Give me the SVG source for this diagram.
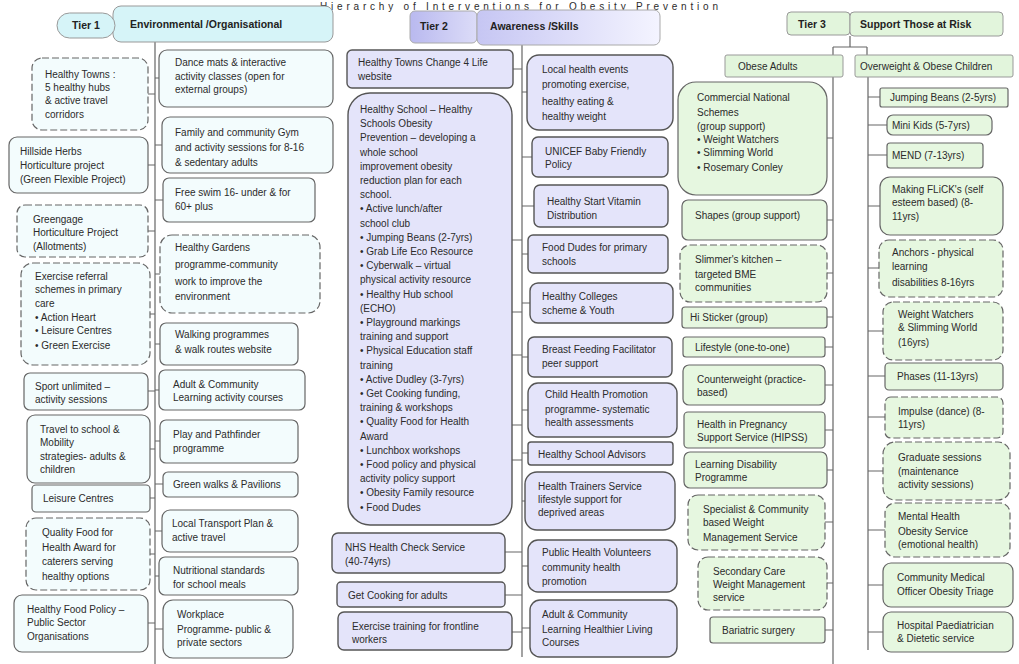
<svg xmlns="http://www.w3.org/2000/svg" width="1019" height="664" viewBox="0 0 1019 664">
<defs>
<linearGradient id="g2a" x1="0" y1="0" x2="1" y2="0"><stop offset="0" stop-color="#b9b9ef"/><stop offset="1" stop-color="#dcdcf8"/></linearGradient>
<linearGradient id="g2b" x1="0" y1="0" x2="1" y2="0"><stop offset="0" stop-color="#c6c6f3"/><stop offset="1" stop-color="#f4f4ff"/></linearGradient>
</defs>
<style>
text{font-family:"Liberation Sans",Arial,sans-serif;font-size:10px;fill:#2b2b2b}
.h{font-weight:bold;font-size:10.5px;fill:#222}
.r1{fill:#f3fcfd;stroke:#666;stroke-width:1.2}
.r1h{fill:#d6f4f8;stroke:#999;stroke-width:1}
.r2{fill:#e4e4fa;stroke:#555;stroke-width:1.4}
.r3{fill:#e6f7e0;stroke:#666;stroke-width:1.2}
.r3h{fill:#e2f5dc;stroke:#999;stroke-width:1}
.d{stroke-dasharray:7 3}
.c{fill:none;stroke:#666;stroke-width:1.2}
</style>
<rect width="1019" height="664" fill="#fff"/>
<text x="320" y="9.5" font-size="12" textLength="398" lengthAdjust="spacing" fill="#333">Hierarchy of Interventions for Obesity Prevention</text>

<g id="connectors">
<path class="c" d="M155 42V664M148 94H155M148 165H155M148 231H155M148 314H155M148 391H155M148 449H155M150 498H155M150 554H155M148 623H155M155 78H159M155 145H162M155 200H163M155 274H160M155 344H160M155 390H159M155 441H160M155 484H163M155 531H162M155 576H159M155 629H163"/>
<path class="c" d="M522 45V657M513 69H522M512 240H522M512 312H522M512 355H522M512 425H522M512 460H522M505 552H522M505 595H522M512 632H522M522 92H527M522 157H532M522 206H534M522 254H528M522 303H530M522 357H528M522 410H528M522 453H528M522 501H525M522 566H528M522 628H530"/>
<path class="c" d="M850 36V47M833 47H867M833 47V55M867 47V55M833 77V664M868 77V650M827 138H833M827 220H833M827 273H833M827 317H833M825 347H833M825 385H833M825 430H833M827 470H833M825 522H833M827 583H833M825 630H833M868 97H880M868 125H887M868 155H887M868 206H880M868 268H879M868 331H883M868 376H885M868 417H885M868 471H883M868 530H885M868 585H883M868 632H883"/>
</g>

<g id="tier1-header">
<rect class="r1h" x="113" y="6" width="220" height="36" rx="8"/>
<rect class="r1h" x="57" y="13" width="58" height="25" rx="12.5"/>
<text class="h" x="72" y="29">Tier 1</text>
<text class="h" x="130" y="28">Environmental /Organisational</text>
</g>
<g id="t1-healthy-towns"><rect class="r1 d" x="32" y="58" width="116" height="72" rx="10"/><text x="45" y="78">Healthy Towns :<tspan x="45" y="91">5 healthy hubs</tspan><tspan x="45" y="104">&amp; active travel</tspan><tspan x="45" y="118">corridors</tspan></text></g>
<g id="t1-hillside"><rect class="r1" x="9" y="137" width="139" height="56" rx="8"/><text x="20" y="155">Hillside Herbs<tspan x="20" y="169">Horticulture project</tspan><tspan x="20" y="183">(Green Flexible Project)</tspan></text></g>
<g id="t1-greengage"><rect class="r1 d" x="17" y="205" width="131" height="52" rx="8"/><text x="33" y="223">Greengage<tspan x="33" y="236">Horticulture Project</tspan><tspan x="33" y="250">(Allotments)</tspan></text></g>
<g id="t1-exercise-referral"><rect class="r1 d" x="21" y="263" width="129" height="102" rx="12"/><text x="35" y="280">Exercise referral<tspan x="35" y="293">schemes in primary</tspan><tspan x="35" y="307">care</tspan><tspan x="35" y="321">• Action Heart</tspan><tspan x="35" y="334">• Leisure Centres</tspan><tspan x="35" y="349">• Green Exercise</tspan></text></g>
<g id="t1-sport"><rect class="r1" x="24" y="373" width="124" height="37" rx="6"/><text x="35" y="390">Sport unlimited –<tspan x="35" y="403">activity sessions</tspan></text></g>
<g id="t1-travel"><rect class="r1" x="27" y="415" width="123" height="68" rx="8"/><text x="40" y="433">Travel to school &amp;<tspan x="40" y="446">Mobility</tspan><tspan x="40" y="460">strategies- adults &amp;</tspan><tspan x="40" y="473">children</tspan></text></g>
<g id="t1-leisure"><rect class="r1" x="32" y="485" width="118" height="27" rx="4"/><text x="43" y="502">Leisure Centres</text></g>
<g id="t1-quality-food"><rect class="r1 d" x="26" y="518" width="124" height="72" rx="10"/><text x="42" y="536">Quality Food for<tspan x="42" y="551">Health Award for</tspan><tspan x="42" y="565">caterers serving</tspan><tspan x="42" y="580">healthy options</tspan></text></g>
<g id="t1-food-policy"><rect class="r1" x="14" y="595" width="134" height="57" rx="8"/><text x="27" y="613">Healthy Food Policy –<tspan x="27" y="626">Public Sector</tspan><tspan x="27" y="640">Organisations</tspan></text></g>

<g id="t1-dance"><rect class="r1" x="159" y="50" width="174" height="57" rx="8"/><text x="175" y="66">Dance mats &amp; interactive<tspan x="175" y="80">activity classes (open for</tspan><tspan x="175" y="93">external groups)</tspan></text></g>
<g id="t1-gym"><rect class="r1" x="162" y="117" width="171" height="56" rx="8"/><text x="175" y="136">Family and community Gym<tspan x="175" y="151">and activity sessions for 8-16</tspan><tspan x="175" y="166">&amp; sedentary adults</tspan></text></g>
<g id="t1-swim"><rect class="r1" x="163" y="178" width="152" height="44" rx="6"/><text x="175" y="196">Free swim 16- under &amp; for<tspan x="175" y="210">60+ plus</tspan></text></g>
<g id="t1-gardens"><rect class="r1 d" x="160" y="235" width="160" height="78" rx="12"/><text x="175" y="251">Healthy Gardens<tspan x="175" y="268">programme-community</tspan><tspan x="175" y="285">work to improve the</tspan><tspan x="175" y="300">environment</tspan></text></g>
<g id="t1-walk"><rect class="r1" x="160" y="323" width="138" height="42" rx="6"/><text x="175" y="338">Walking programmes<tspan x="175" y="353">&amp; walk routes website</tspan></text></g>
<g id="t1-acl"><rect class="r1" x="159" y="370" width="146" height="40" rx="6"/><text x="173" y="388">Adult &amp; Community<tspan x="173" y="401">Learning activity courses</tspan></text></g>
<g id="t1-play"><rect class="r1" x="160" y="420" width="138" height="43" rx="6"/><text x="173" y="438">Play and Pathfinder<tspan x="173" y="452">programme</tspan></text></g>
<g id="t1-green-walks"><rect class="r1" x="163" y="472" width="135" height="25" rx="5"/><text x="173" y="488">Green walks &amp; Pavilions</text></g>
<g id="t1-transport"><rect class="r1" x="162" y="510" width="136" height="42" rx="8"/><text x="172" y="527">Local Transport Plan &amp;<tspan x="172" y="541">active travel</tspan></text></g>
<g id="t1-nutrition"><rect class="r1" x="159" y="557" width="139" height="38" rx="6"/><text x="173" y="574">Nutritional standards<tspan x="173" y="588">for school meals</tspan></text></g>
<g id="t1-workplace"><rect class="r1" x="163" y="600" width="130" height="58" rx="10"/><text x="177" y="618">Workplace<tspan x="177" y="633">Programme- public &amp;</tspan><tspan x="177" y="646">private sectors</tspan></text></g>

<g id="tier2-header">
<rect x="410" y="11" width="67" height="32" rx="5" fill="url(#g2a)" stroke="#aaa"/>
<rect x="477" y="10" width="183" height="35" rx="6" fill="url(#g2b)" stroke="#aaa"/>
<text class="h" x="420" y="30">Tier 2</text>
<text class="h" x="490" y="30">Awareness /Skills</text>
</g>
<g id="t2-change4life"><rect class="r2" x="347" y="50" width="166" height="38" rx="5"/><text x="358" y="66">Healthy Towns Change 4 Life<tspan x="358" y="80">website</tspan></text></g>
<g id="t2-healthy-school"><rect class="r2" x="348" y="93" width="164" height="432" rx="22"/><text x="360" y="113">Healthy School – Healthy<tspan x="360" dy="14.2">Schools Obesity</tspan><tspan x="360" dy="14.2">Prevention – developing a</tspan><tspan x="360" dy="14.2">whole school</tspan><tspan x="360" dy="14.2">improvement obesity</tspan><tspan x="360" dy="14.2">reduction plan for each</tspan><tspan x="360" dy="14.2">school.</tspan><tspan x="360" dy="14.2">• Active lunch/after</tspan><tspan x="360" dy="14.2">school club</tspan><tspan x="360" dy="14.2">• Jumping Beans (2-7yrs)</tspan><tspan x="360" dy="14.2">• Grab Life Eco Resource</tspan><tspan x="360" dy="14.2">• Cyberwalk – virtual</tspan><tspan x="360" dy="14.2">physical activity resource</tspan><tspan x="360" dy="14.2">• Healthy Hub school</tspan><tspan x="360" dy="14.2">(ECHO)</tspan><tspan x="360" dy="14.2">• Playground markings</tspan><tspan x="360" dy="14.2">training and support</tspan><tspan x="360" dy="14.2">• Physical Education staff</tspan><tspan x="360" dy="14.2">training</tspan><tspan x="360" dy="14.2">• Active Dudley (3-7yrs)</tspan><tspan x="360" dy="14.2">• Get Cooking funding,</tspan><tspan x="360" dy="14.2">training &amp; workshops</tspan><tspan x="360" dy="14.2">• Quality Food for Health</tspan><tspan x="360" dy="14.2">Award</tspan><tspan x="360" dy="14.2">• Lunchbox workshops</tspan><tspan x="360" dy="14.2">• Food policy and physical</tspan><tspan x="360" dy="14.2">activity policy support</tspan><tspan x="360" dy="14.2">• Obesity Family resource</tspan><tspan x="360" dy="14.2">• Food Dudes</tspan></text></g>
<g id="t2-nhs-check"><rect class="r2" x="332" y="533" width="173" height="40" rx="6"/><text x="345" y="551">NHS Health Check Service<tspan x="345" y="565">(40-74yrs)</tspan></text></g>
<g id="t2-get-cooking"><rect class="r2" x="337" y="582" width="168" height="25" rx="4"/><text x="348" y="599">Get Cooking for adults</text></g>
<g id="t2-training"><rect class="r2" x="338" y="612" width="174" height="38" rx="6"/><text x="352" y="630">Exercise training for frontline<tspan x="352" y="643">workers</tspan></text></g>
<g id="t2-events"><rect class="r2" x="527" y="55" width="146" height="75" rx="12"/><text x="542" y="73">Local health events<tspan x="542" y="88">promoting exercise,</tspan><tspan x="542" y="105">healthy eating &amp;</tspan><tspan x="542" y="120">healthy weight</tspan></text></g>
<g id="t2-unicef"><rect class="r2" x="532" y="137" width="136" height="40" rx="6"/><text x="545" y="155">UNICEF Baby Friendly<tspan x="545" y="168">Policy</tspan></text></g>
<g id="t2-healthy-start"><rect class="r2" x="534" y="185" width="134" height="42" rx="6"/><text x="547" y="205">Healthy Start Vitamin<tspan x="547" y="219">Distribution</tspan></text></g>
<g id="t2-food-dudes"><rect class="r2" x="528" y="235" width="140" height="38" rx="5"/><text x="542" y="251">Food Dudes for primary<tspan x="542" y="265">schools</tspan></text></g>
<g id="t2-colleges"><rect class="r2" x="530" y="283" width="143" height="40" rx="8"/><text x="542" y="300">Healthy Colleges<tspan x="542" y="314">scheme &amp; Youth</tspan></text></g>
<g id="t2-breastfeeding"><rect class="r2" x="528" y="337" width="144" height="40" rx="6"/><text x="542" y="353">Breast Feeding Facilitator<tspan x="542" y="367">peer support</tspan></text></g>
<g id="t2-child-health"><rect class="r2" x="528" y="383" width="149" height="54" rx="10"/><text x="545" y="398">Child Health Promotion<tspan x="545" y="413">programme- systematic</tspan><tspan x="545" y="426">health assessments</tspan></text></g>
<g id="t2-advisors"><rect class="r2" x="528" y="442" width="145" height="23" rx="3"/><text x="538" y="458">Healthy School Advisors</text></g>
<g id="t2-trainers"><rect class="r2" x="525" y="472" width="150" height="58" rx="12"/><text x="538" y="490">Health Trainers Service<tspan x="538" y="503">lifestyle support for</tspan><tspan x="538" y="516">deprived areas</tspan></text></g>
<g id="t2-volunteers"><rect class="r2" x="528" y="540" width="149" height="52" rx="10"/><text x="542" y="556">Public Health Volunteers<tspan x="542" y="571">community health</tspan><tspan x="542" y="585">promotion</tspan></text></g>
<g id="t2-acl"><rect class="r2" x="530" y="600" width="147" height="57" rx="10"/><text x="542" y="618">Adult &amp; Community<tspan x="542" y="633">Learning Healthier Living</tspan><tspan x="542" y="646">Courses</tspan></text></g>

<g id="tier3-header">
<rect class="r3h" x="787" y="12" width="63" height="23" rx="4"/>
<rect class="r3h" x="850" y="12" width="153" height="24" rx="4"/>
<text class="h" x="798" y="28">Tier 3</text>
<text class="h" x="860" y="28">Support Those at Risk</text>
</g>
<g id="t3-obese-adults"><rect class="r3h" x="725" y="55" width="118" height="22" rx="2"/><text x="738" y="70">Obese Adults</text></g>
<g id="t3-obese-children"><rect class="r3h" x="855" y="55" width="158" height="22" rx="2"/><text x="860" y="70" font-size="10.5">Overweight &amp; Obese Children</text></g>
<g id="t3-commercial"><rect class="r3" x="678" y="82" width="149" height="113" rx="18"/><text x="697" y="101">Commercial National<tspan x="697" y="116">Schemes</tspan><tspan x="697" y="130">(group support)</tspan><tspan x="697" y="143">• Weight Watchers</tspan><tspan x="697" y="156">• Slimming World</tspan><tspan x="697" y="171">• Rosemary Conley</tspan></text></g>
<g id="t3-shapes"><rect class="r3" x="682" y="200" width="145" height="40" rx="6"/><text x="695" y="219">Shapes (group support)</text></g>
<g id="t3-slimmers"><rect class="r3 d" x="680" y="245" width="147" height="57" rx="10"/><text x="695" y="263">Slimmer's kitchen –<tspan x="695" y="278">targeted BME</tspan><tspan x="695" y="291">communities</tspan></text></g>
<g id="t3-sticker"><rect class="r3" x="682" y="307" width="145" height="21" rx="3"/><text x="690" y="321">Hi Sticker (group)</text></g>
<g id="t3-lifestyle"><rect class="r3" x="683" y="337" width="142" height="20" rx="3"/><text x="695" y="351">Lifestyle (one-to-one)</text></g>
<g id="t3-counterweight"><rect class="r3" x="683" y="365" width="142" height="40" rx="6"/><text x="697" y="383">Counterweight (practice-<tspan x="697" y="396">based)</tspan></text></g>
<g id="t3-hipss"><rect class="r3" x="684" y="412" width="141" height="36" rx="4"/><text x="697" y="428">Health in Pregnancy<tspan x="697" y="441">Support Service (HIPSS)</tspan></text></g>
<g id="t3-learning-disability"><rect class="r3" x="684" y="452" width="143" height="36" rx="6"/><text x="695" y="468">Learning Disability<tspan x="695" y="481">Programme</tspan></text></g>
<g id="t3-specialist"><rect class="r3 d" x="688" y="495" width="137" height="55" rx="10"/><text x="703" y="513">Specialist &amp; Community<tspan x="703" y="526">based Weight</tspan><tspan x="703" y="541">Management Service</tspan></text></g>
<g id="t3-secondary"><rect class="r3 d" x="698" y="557" width="129" height="53" rx="10"/><text x="713" y="575">Secondary Care<tspan x="713" y="588">Weight Management</tspan><tspan x="713" y="601">service</tspan></text></g>
<g id="t3-bariatric"><rect class="r3" x="710" y="617" width="115" height="26" rx="3"/><text x="722" y="634">Bariatric surgery</text></g>

<g id="t3-jumping-beans"><rect class="r3" x="880" y="88" width="128" height="19" rx="2"/><text x="890" y="101">Jumping Beans (2-5yrs)</text></g>
<g id="t3-mini-kids"><rect class="r3" x="887" y="115" width="105" height="20" rx="6"/><text x="892" y="129">Mini Kids (5-7yrs)</text></g>
<g id="t3-mend"><rect class="r3" x="887" y="143" width="96" height="25" rx="3"/><text x="892" y="159">MEND (7-13yrs)</text></g>
<g id="t3-flicks"><rect class="r3" x="880" y="177" width="123" height="58" rx="10"/><text x="892" y="193">Making FLiCK's (self<tspan x="892" y="206">esteem based) (8-</tspan><tspan x="892" y="220">11yrs)</tspan></text></g>
<g id="t3-anchors"><rect class="r3 d" x="879" y="240" width="124" height="57" rx="10"/><text x="892" y="256">Anchors - physical<tspan x="892" y="270">learning</tspan><tspan x="892" y="286">disabilities 8-16yrs</tspan></text></g>
<g id="t3-weight-watchers"><rect class="r3 d" x="883" y="302" width="120" height="58" rx="10"/><text x="898" y="318">Weight Watchers<tspan x="898" y="331">&amp; Slimming World</tspan><tspan x="898" y="346">(16yrs)</tspan></text></g>
<g id="t3-phases"><rect class="r3" x="885" y="363" width="118" height="27" rx="4"/><text x="897" y="380">Phases (11-13yrs)</text></g>
<g id="t3-impulse"><rect class="r3 d" x="885" y="397" width="118" height="41" rx="6"/><text x="898" y="415">Impulse (dance) (8-<tspan x="898" y="428">11yrs)</tspan></text></g>
<g id="t3-graduate"><rect class="r3 d" x="883" y="442" width="127" height="58" rx="12"/><text x="898" y="461">Graduate sessions<tspan x="898" y="475">(maintenance</tspan><tspan x="898" y="488">activity sessions)</tspan></text></g>
<g id="t3-mental-health"><rect class="r3 d" x="885" y="503" width="125" height="54" rx="10"/><text x="898" y="520">Mental Health<tspan x="898" y="535">Obesity Service</tspan><tspan x="898" y="548">(emotional health)</tspan></text></g>
<g id="t3-cmo"><rect class="r3" x="883" y="563" width="130" height="44" rx="8"/><text x="897" y="581">Community Medical<tspan x="897" y="595">Officer Obesity Triage</tspan></text></g>
<g id="t3-hospital"><rect class="r3" x="883" y="612" width="130" height="40" rx="8"/><text x="897" y="629">Hospital Paediatrician<tspan x="897" y="642">&amp; Dietetic service</tspan></text></g>
</svg>
